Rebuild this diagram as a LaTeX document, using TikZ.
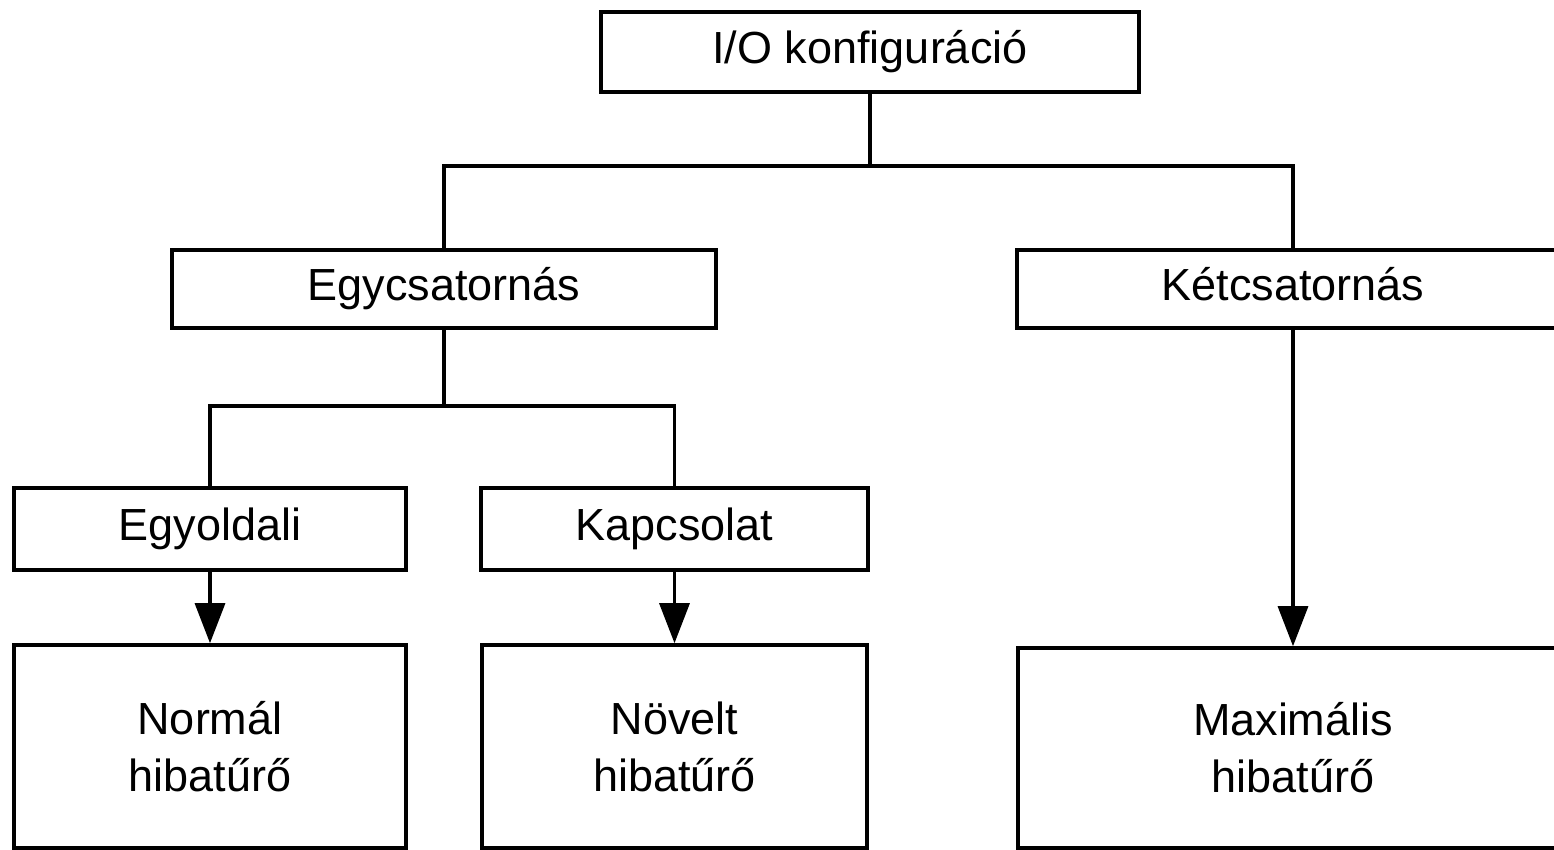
\documentclass[tikz,border=0pt]{standalone}
\usepackage{fontspec}
\setmainfont{Liberation Sans}
\usetikzlibrary{arrows.meta}
\tikzset{
  box/.style={draw, line width=1.8pt, inner sep=0pt, align=center,
    font=\fontsize{22.5}{28.5}\selectfont},
  onel/.style={box, text height=16pt, text depth=4.5pt},
  link/.style={line width=1.6pt},
  arr/.style={line width=1.6pt, -{Triangle[width=15pt,length=20pt]}}
}
\begin{document}
\begin{tikzpicture}[x=0.5pt,y=-0.5pt]
\useasboundingbox (0,0) rectangle (1554,850);
\node[onel, minimum width=269pt, minimum height=40pt] (top) at (870,52) {I/O konfiguráció};
\node[onel, minimum width=272pt, minimum height=39pt] (egy) at (444,289) {Egycsatornás};
\node[onel, minimum width=276pt, minimum height=39pt] (ket) at (1293,289) {Kétcsatornás};
\node[onel, minimum width=196pt, minimum height=41pt] (egyold) at (210,529) {Egyoldali};
\node[onel, minimum width=193.5pt, minimum height=41pt] (kapcs) at (674.5,529) {Kapcsolat};
\node[box, minimum width=196pt, minimum height=101.5pt] (normal) at (210,746.5) {Normál\\hibatűrő};
\node[box, minimum width=192.5pt, minimum height=101.5pt] (novelt) at (674.5,746.5) {Növelt\\hibatűrő};
\node[box, minimum width=275pt, minimum height=100pt] (max) at (1293,748) {Maximális\\hibatűrő};
\coordinate (j1) at (870,166);
\coordinate (j2) at (444,406);
\draw[link] (top.south) -- (j1);
\draw[link] (egy.north) |- (j1) -| (ket.north);
\draw[link] (egy.south) -- (j2);
\draw[link] (egyold.north) |- (j2) -| (kapcs.north);
\draw[arr] (egyold.south) -- (normal.north);
\draw[arr] (kapcs.south) -- (novelt.north);
\draw[arr] (ket.south) -- (max.north);
\end{tikzpicture}
\end{document}
